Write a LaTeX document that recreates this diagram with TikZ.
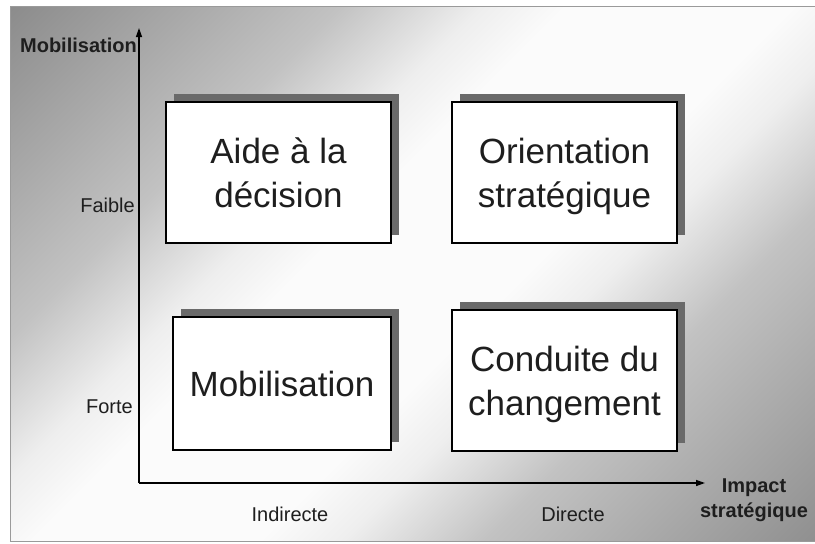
\documentclass[tikz,border=0pt]{standalone}
\usepackage{fontspec}
\setmainfont{Liberation Sans}
\usetikzlibrary{arrows.meta,shadows}
\definecolor{shadowgrey}{HTML}{6A6A6A}
\definecolor{bgDark}{HTML}{8C8C8C}
\definecolor{bgDarkB}{HTML}{909090}
\definecolor{bgMidG}{HTML}{C2C2C2}
\definecolor{bgLight}{HTML}{EEEEEE}
\definecolor{bgWhite}{HTML}{FBFBFB}
\definecolor{framegrey}{HTML}{9A9A9A}
\definecolor{labtext}{HTML}{1E1E1E}
\pgfdeclareverticalshading{bgshade}{100bp}{%
  color(0bp)=(bgDarkB); color(14.6bp)=(bgDarkB); color(32bp)=(bgMidG);
  color(39.5bp)=(bgLight); color(44bp)=(bgWhite); color(56bp)=(bgWhite);
  color(60.5bp)=(bgLight); color(68bp)=(bgMidG); color(85.4bp)=(bgDark);
  color(100bp)=(bgDark)}
\begin{document}
\begin{tikzpicture}[x=1pt,y=-1pt,
  quad/.style={draw=black, line width=1.4pt, fill=white, minimum width=225pt,
    minimum height=141pt, align=center, text=labtext,
    font=\fontsize{35}{44}\selectfont, inner sep=0pt, text depth=0pt,
    drop shadow={shadow xshift=8pt, shadow yshift=8pt, fill=shadowgrey, opacity=1}},
  lab/.style={font=\fontsize{20}{25}\selectfont, text=labtext, inner sep=0pt},
  blab/.style={font=\bfseries\fontsize{20}{25}\selectfont, text=labtext, inner sep=0pt},
  axis/.style={line width=1.3pt, -{Triangle[length=9pt,width=6pt]}}
]
\useasboundingbox (0,0) rectangle (815,544);
\fill[white] (0,0) rectangle (815,544);
\shade[shading=bgshade, shading angle=45] (10,6) rectangle (815,541);
\draw[framegrey, line width=0.8pt] (815,6) -- (10,6) -- (10,541) -- (815,541);

% axes
\coordinate (O) at (139,483);
\coordinate (ytip) at (139,28);
\coordinate (xtip) at (705,483);
\draw[axis] (O) -- (ytip);
\draw[axis] (O) -- (xtip);

% boxes
\node[quad] (aide) at (278.5,172.5) {Aide à la\\décision};
\node[quad] (orient) at (564.5,172.5) {Orientation\\stratégique};
\node[quad, minimum width=218pt, minimum height=133pt] (mob) at (282,383.5) {Mobilisation};
\node[quad] (cond) at (564.5,380.5) {Conduite du\\changement};

% labels
\node[blab, anchor=base east] (ymob) at (137,52) {Mobilisation};
\node[lab, anchor=base east] (faible) at (135,212) {Faible};
\node[lab, anchor=base east] (forte) at (133,413) {Forte};
\node[lab, anchor=base] (indir) at (290,521) {Indirecte};
\node[lab, anchor=base] (dir) at (573,521) {Directe};
\node[blab, align=center] (impact) at (754,500) {Impact\\stratégique};
\end{tikzpicture}
\end{document}
